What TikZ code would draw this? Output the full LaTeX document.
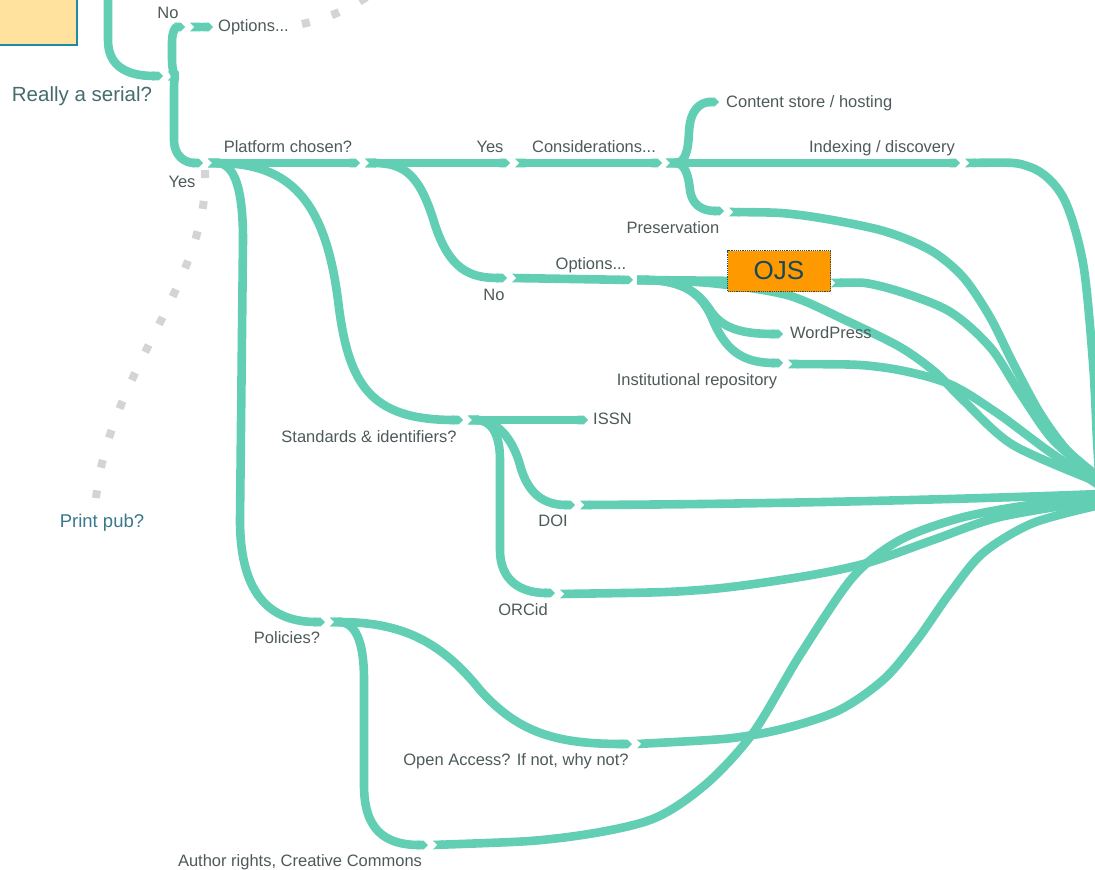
\documentclass[tikz,border=0pt]{standalone}
\usepackage{fontspec}
\setmainfont{Liberation Sans}
\usetikzlibrary{arrows.meta}
\definecolor{brc}{RGB}{98,207,180}
\definecolor{lblc}{RGB}{78,90,90}
\definecolor{serialc}{RGB}{72,108,110}
\definecolor{printc}{RGB}{58,120,140}
\definecolor{dotc}{RGB}{212,212,212}
\definecolor{yelc}{RGB}{255,226,158}
\definecolor{yelb}{RGB}{30,140,160}
\definecolor{ojsc}{RGB}{255,153,0}
\definecolor{ojsb}{RGB}{30,80,100}
\definecolor{ojst}{RGB}{22,72,92}
\tikzset{
  br/.style={draw=brc, line width=8.6pt, line join=round},
  seg/.style={br, {Triangle Cap[reversed]}-{Triangle Cap}},
  xl/.style={br, {Triangle Cap[reversed]}-},
  dotline/.style={draw=dotc, line width=8pt, dash pattern=on 8pt off 23pt},
  lbl/.style={font=\fontsize{16.5}{20}\selectfont, text=lblc, inner sep=1pt, anchor=mid},
  lblw/.style={lbl, anchor=mid west},
}
\begin{document}
\begin{tikzpicture}[x=1pt,y=-1pt]
\useasboundingbox (0,0) rectangle (1095,870);
\clip (0,0) rectangle (1095,870);
\fill[white] (0,0) rectangle (1095,870);

% yellow box
\draw[fill=yelc, draw=yelb, line width=1.5pt] (-5,-5) rectangle (77,45);

% coordinates
\coordinate (top) at (108,-10);
\coordinate (rsE) at (163,76);
\coordinate (rsJ) at (168,76);
\coordinate (noE) at (185,27);
\coordinate (opt1S) at (190,27);
\coordinate (opt1E) at (213,27);
\coordinate (yesE) at (203,163);
\coordinate (pcS) at (208,163);
\coordinate (pcE) at (360,163);
\coordinate (yes2S) at (365,163);
\coordinate (yes2E) at (510,163);
\coordinate (conS) at (515,163);
\coordinate (conE) at (662,163);
\coordinate (conJ) at (666,163);
\coordinate (csE) at (719,102);
\coordinate (idxE) at (960,163);
\coordinate (idxS2) at (965,163);
\coordinate (prE) at (724,211);
\coordinate (prS2) at (729,212);
\coordinate (no2E) at (507,278);
\coordinate (opt2S) at (512,278);
\coordinate (opt2E) at (633,280);
\coordinate (opt2J) at (637,280);
\coordinate (ojsIn) at (745,281);
\coordinate (ojsS2) at (831,283);
\coordinate (wpE) at (783,334);
\coordinate (irE) at (783,363);
\coordinate (irS2) at (788,364);
\coordinate (sdE) at (463,420);
\coordinate (sdJ) at (468,420);
\coordinate (issnE) at (588,420);
\coordinate (doiE) at (575,505);
\coordinate (doiS2) at (580,505);
\coordinate (orcE) at (555,593);
\coordinate (orcS2) at (560,594);
\coordinate (polE) at (325,622);
\coordinate (polJ) at (330,622);
\coordinate (oaE) at (632,744);
\coordinate (oaS2) at (637,744);
\coordinate (arE) at (428,845);
\coordinate (arS2) at (433,845);
\coordinate (hubA) at (1100,478);
\coordinate (hubB) at (1100,500);

% cross links to the hub on the right
\draw[xl] plot[smooth] coordinates {(idxS2) (1030,167) (1063,197) (1083,263) (1093,363) (1097,440) (1100,490)};
\draw[xl] plot[smooth] coordinates {(prS2) (800,215) (880,230) (930,250) (963,277) (990,317) (1013,363) (1040,413) (1067,450) (hubA)};
\draw[xl] plot[smooth] coordinates {(ojsS2) (880,286) (947,310) (990,347) (1020,393) (1053,440) (1100,480)};
\draw[br] plot[smooth] coordinates {(opt2J) (710,283) (787,295) (845,320) (900,347) (935,372) (963,400) (1013,445) (1100,483)};
\draw[xl] plot[smooth] coordinates {(irS2) (880,367) (947,383) (997,413) (1047,450) (1100,486)};
\draw[xl] (doiS2) .. controls (800,504) and (1000,498) .. (1100,494);
\draw[xl] plot[smooth] coordinates {(orcS2) (700,590) (800,577) (867,563) (933,540) (1000,517) (1100,500)};
\draw[xl] plot[smooth] coordinates {(oaS2) (753,735) (833,713) (883,680) (917,640) (950,593) (983,553) (1033,523) (1100,505)};
\draw[xl] plot[smooth] coordinates {(arS2) (560,838) (650,820) (705,785) (753,733) (800,655) (853,577) (900,540) (960,518) (1030,505) (hubB)};

% tree branches
\draw[br, -{Triangle Cap}] (top) -- (108,40) .. controls (108,65) and (125,76) .. (rsE);
\draw[seg] (rsJ) .. controls (174,76) and (172,70) .. (172,58) -- (172,42) .. controls (172,31) and (176,27) .. (noE);
\draw[seg] (opt1S) -- (opt1E);
\draw[seg] (rsJ) .. controls (174,76) and (174,82) .. (174,95) -- (174,140) .. controls (174,156) and (185,163) .. (yesE);
\draw[seg] (pcS) -- (pcE);
\draw[seg] (yes2S) -- (yes2E);
\draw[seg] (conS) -- (conE);
\draw[seg] (conJ) .. controls (684,163) and (688,155) .. (689,132) .. controls (690,110) and (700,102) .. (csE);
\draw[seg] (conJ) -- (idxE);
\draw[seg] (conJ) .. controls (684,163) and (688,172) .. (690,190) .. controls (692,205) and (702,211) .. (prE);
\draw[seg] (yes2S) .. controls (405,163) and (420,175) .. (435,225) .. controls (450,270) and (470,278) .. (no2E);
\draw[seg] (opt2S) -- (opt2E);
\draw[br, {Triangle Cap[reversed]}-] (opt2J) -- (ojsIn);
\draw[seg] (opt2J) .. controls (685,280) and (700,295) .. (710,310) .. controls (722,328) and (740,334) .. (wpE);
\draw[seg] (opt2J) .. controls (685,280) and (702,295) .. (712,318) .. controls (725,350) and (742,363) .. (irE);
\draw[seg] (pcS) .. controls (290,163) and (325,200) .. (338,300) .. controls (348,385) and (370,420) .. (sdE);
\draw[seg] (sdJ) -- (issnE);
\draw[seg] (sdJ) .. controls (498,420) and (513,440) .. (520,465) .. controls (528,495) and (545,505) .. (doiE);
\draw[seg] (sdJ) .. controls (490,420) and (500,432) .. (500,460) -- (500,550) .. controls (500,580) and (520,593) .. (orcE);
\draw[seg] (pcS) .. controls (235,163) and (243,190) .. (243,240) -- (240,520) .. controls (240,600) and (275,622) .. (polE);
\draw[seg] (polJ) .. controls (400,622) and (440,640) .. (480,690) .. controls (520,735) and (560,744) .. (oaE);
\draw[seg] (polJ) .. controls (355,622) and (364,640) .. (364,680) -- (364,785) .. controls (364,830) and (385,845) .. (arE);

% grey dotted links
\coordinate (dotS) at (205,170);
\coordinate (dotE) at (96,498);
\draw[dotline] (dotS) .. controls (210,280) and (110,370) .. (dotE);
\coordinate (dot2S) at (302,24);
\coordinate (dot2E) at (385,-15);
\draw[dotline] (dot2S) .. controls (330,18) and (352,8) .. (dot2E);

% OJS box
\node[draw=ojsb, densely dotted, line width=1.2pt, fill=ojsc, minimum width=103pt, minimum height=41pt, inner sep=0pt,
      text=ojst, font=\fontsize{26}{30}\selectfont] (ojs) at (779,271) {OJS};

% labels
\node[lbl] (lNo) at (168,16) {No};
\node[lblw] (lOpt1) at (217,29) {Options...};
\node[lbl, text=serialc, font=\fontsize{20.5}{24}\selectfont] (lSerial) at (82,99) {Really a serial?};
\node[lbl] (lYes) at (182,185) {Yes};
\node[lbl, text=printc, font=\fontsize{18.5}{22}\selectfont] (lPrint) at (102,525) {Print pub?};
\node[lbl] (lPlat) at (288,150) {Platform chosen?};
\node[lbl] (lYes2) at (490,150) {Yes};
\node[lbl] (lCons) at (594,150) {Considerations...};
\node[lblw] (lCont) at (725,105) {Content store / hosting};
\node[lbl] (lIdx) at (882,150) {Indexing / discovery};
\node[lbl] (lPres) at (673,231) {Preservation};
\node[lbl] (lNo2) at (494,298) {No};
\node[lbl] (lOpt2) at (591,267) {Options...};
\node[lblw] (lWP) at (789,336) {WordPress};
\node[lbl] (lIR) at (697,383) {Institutional repository};
\node[lbl] (lStd) at (369,440) {Standards \& identifiers?};
\node[lblw] (lISSN) at (592,422) {ISSN};
\node[lbl] (lDOI) at (553,524) {DOI};
\node[lbl] (lORC) at (523,613) {ORCid};
\node[lbl] (lPol) at (287,641) {Policies?};
\node[lbl] (lOA) at (516,763) {Open Access? If not, why not?};
\node[lbl] (lAR) at (300,864) {Author rights, Creative Commons};
\end{tikzpicture}
\end{document}
